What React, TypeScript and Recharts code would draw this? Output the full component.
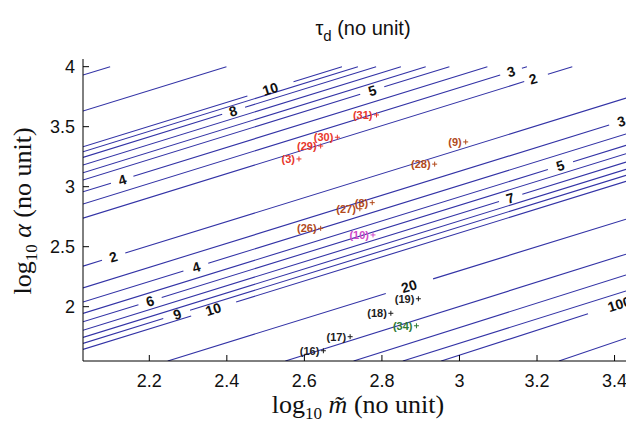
import React from "react"
import { ComposedChart, Line, Scatter, XAxis, YAxis } from "recharts"

// ---------------------------------------------------------------------------
// Data
// ---------------------------------------------------------------------------

const xTicks = [2.2, 2.4, 2.6, 2.8, 3, 3.2, 3.4]
const yTicks = [2, 2.5, 3, 3.5, 4]
const xDomain: [number, number] = [2.029, 3.4295]
const yDomain: [number, number] = [1.5475, 4.064]

// each contour: visible segments [x0, y0, x1, y1]; gaps are where the labels sit
const contourSegments: number[][][] = [
  [[2.029, 3.93, 2.099, 4.0]],
  [[2.029, 3.63, 2.399, 4.0]],
  [[2.029, 3.332, 2.453, 3.756], [2.572, 3.875, 2.697, 4.0]],
  [[2.029, 3.291, 2.738, 4.0]],
  [[2.029, 3.244, 2.388, 3.603], [2.447, 3.662, 2.785, 4.0]],
  [[2.029, 3.18, 2.849, 4.0]],
  [[2.029, 3.116, 2.913, 4.0]],
  [[2.029, 3.055, 2.744, 3.77], [2.806, 3.832, 2.974, 4.0]],
  [[2.029, 2.957, 2.101, 3.029], [2.159, 3.087, 3.072, 4.0]],
  [[2.029, 2.855, 3.105, 3.931], [3.161, 3.987, 3.174, 4.0]],
  [[2.029, 2.738, 3.167, 3.876], [3.228, 3.937, 3.291, 4.0]],
  [[2.029, 2.338, 2.078, 2.387], [2.138, 2.447, 3.4295, 3.7385]],
  [[2.029, 2.157, 3.386, 3.514]],
  [[2.029, 2.039, 2.288, 2.298], [2.352, 2.362, 3.4295, 3.4395]],
  [[2.029, 1.944, 3.228, 3.143], [3.293, 3.208, 3.4295, 3.3445]],
  [[2.029, 1.874, 2.172, 2.017], [2.232, 2.077, 3.4295, 3.2745]],
  [[2.029, 1.804, 3.102, 2.877], [3.162, 2.937, 3.4295, 3.2045]],
  [[2.029, 1.744, 3.4295, 3.1445]],
  [[2.029, 1.694, 2.236, 1.901], [2.305, 1.97, 3.4295, 3.0945]],
  [[2.029, 1.644, 2.308, 1.923], [2.424, 2.039, 3.4295, 3.0445]],
  [[2.2475, 1.5475, 2.81, 2.11], [2.932, 2.232, 3.4295, 2.7295]],
  [[2.551, 1.5475, 3.4295, 2.4375]],
  [[2.727, 1.5475, 3.4295, 2.2645]],
  [[2.854, 1.5475, 3.4295, 2.1315]],
  [[2.953, 1.5475, 3.3315, 1.9405]],
  [[3.2566, 1.5475, 3.4295, 1.7375]],
]

// contour labels
const labelText = ["10", "8", "4", "5", "3", "2", "2", "3", "4", "5", "6", "7", "9", "10", "20", "100"]
const labelX = [2.512, 2.416, 2.13, 2.775, 3.133, 3.19, 2.107, 3.417, 2.321, 3.26, 2.202, 3.131, 2.272, 2.365, 2.87, 3.412]
const labelY = [3.815, 3.631, 3.058, 3.801, 3.959, 3.899, 2.416, 3.545, 2.331, 3.175, 2.047, 2.906, 1.937, 1.98, 2.17, 2.022]

// marked cases
const pointIds = ["(31)", "(30)", "(29)", "(3)", "(9)", "(28)", "(8)", "(27)", "(26)", "(10)", "(19)", "(18)", "(34)", "(17)", "(16)"]
const pointX = [2.786, 2.685, 2.642, 2.586, 3.016, 2.936, 2.775, 2.743, 2.642, 2.777, 2.894, 2.823, 2.889, 2.718, 2.649]
const pointY = [3.598, 3.412, 3.339, 3.231, 3.373, 3.188, 2.867, 2.816, 2.653, 2.598, 2.066, 1.945, 1.841, 1.75, 1.633]
const pointGroup = ["red", "red", "red", "red", "brown", "brown", "brown", "brown", "brown", "magenta", "dark", "dark", "green", "dark", "dark"]

const groupColor: Record<string, string> = {
  red: "#e8372c",
  brown: "#b24a1c",
  magenta: "#d04ac8",
  green: "#2e7a34",
  dark: "#1c1c1c",
}

const LINE_COLOR = "#3333a6"
const SANS = "'Liberation Sans', Arial, Helvetica, sans-serif"
const SERIF = "'Liberation Serif', 'Times New Roman', serif"

// ---------------------------------------------------------------------------
// Helpers
// ---------------------------------------------------------------------------

function segmentsToPoints(segs: number[][]) {
  const pts: { x: number; y: number | null }[] = []
  segs.forEach((s, i) => {
    if (i > 0) pts.push({ x: (segs[i - 1][2] + s[0]) / 2, y: null })
    pts.push({ x: s[0], y: s[1] })
    pts.push({ x: s[2], y: s[3] })
  })
  return pts
}

const contourData = contourSegments.map(segmentsToPoints)
const labelData = labelText.map((t, i) => ({ x: labelX[i], y: labelY[i], text: t }))
const pointData = pointIds.map((id, i) => ({ x: pointX[i], y: pointY[i], id, color: groupColor[pointGroup[i]] }))

// ---------------------------------------------------------------------------
// Shapes / ticks
// ---------------------------------------------------------------------------

function ContourLabel(props: any) {
  const { cx, cy, payload } = props
  if (cx == null || cy == null) return null
  return (
    <text
      x={cx}
      y={cy}
      transform={`rotate(-17 ${cx} ${cy})`}
      textAnchor="middle"
      dominantBaseline="central"
      fontSize={14}
      fontWeight="bold"
      fontFamily={SANS}
      fill="#111"
    >
      {payload.text}
    </text>
  )
}

function CaseMarker(props: any) {
  const { cx, cy, payload } = props
  if (cx == null || cy == null) return null
  const c = payload.color
  return (
    <g>
      <line x1={cx - 2.5} y1={cy} x2={cx + 2.5} y2={cy} stroke={c} strokeWidth={1} />
      <line x1={cx} y1={cy - 2.5} x2={cx} y2={cy + 2.5} stroke={c} strokeWidth={1} />
      <text x={cx - 4} y={cy} dy={4} textAnchor="end" fontSize={11} fontWeight="bold" fontFamily={SANS} fill={c}>
        {payload.id}
      </text>
    </g>
  )
}

function XTick({ x, y, payload }: any) {
  return (
    <g>
      <line x1={x} y1={y} x2={x} y2={y - 6} stroke="#000" />
      <text x={x} y={y + 26} textAnchor="middle" fontSize={18} fontFamily={SANS} fill="#111">
        {String(payload.value)}
      </text>
    </g>
  )
}

function YTick({ x, y, payload }: any) {
  return (
    <g>
      <line x1={x} y1={y} x2={x + 6} y2={y} stroke="#000" />
      <text x={x - 8} y={y + 6.5} textAnchor="end" fontSize={18} fontFamily={SANS} fill="#111">
        {String(payload.value)}
      </text>
    </g>
  )
}

// ---------------------------------------------------------------------------
// Main
// ---------------------------------------------------------------------------

export default function App() {
  return (
    <div style={{ position: "absolute", left: 0, top: 0, width: 626, height: 421, overflow: "hidden", background: "#fff" }}>
      <ComposedChart width={626} height={421} margin={{ top: 59, right: 0, bottom: 0, left: 0 }}>
        <XAxis
          type="number"
          dataKey="x"
          domain={xDomain}
          allowDataOverflow
          ticks={xTicks}
          height={60}
          tickSize={0}
          tickMargin={0}
          tickLine={false}
          axisLine={{ stroke: "#000" }}
          tick={<XTick />}
          interval={0}
        />
        <YAxis
          type="number"
          dataKey="y"
          domain={yDomain}
          allowDataOverflow
          ticks={yTicks}
          width={83}
          tickSize={0}
          tickMargin={0}
          tickLine={false}
          axisLine={{ stroke: "#000" }}
          tick={<YTick />}
          interval={0}
        />
        {contourData.map((d, i) => (
          <Line
            key={i}
            data={d}
            dataKey="y"
            type="linear"
            stroke={LINE_COLOR}
            strokeWidth={1.1}
            dot={false}
            activeDot={false}
            connectNulls={false}
            isAnimationActive={false}
          />
        ))}
        <Scatter data={labelData} dataKey="y" shape={<ContourLabel />} isAnimationActive={false} />
        <Scatter data={pointData} dataKey="y" shape={<CaseMarker />} isAnimationActive={false} />
      </ComposedChart>

      <svg width={626} height={421} style={{ position: "absolute", left: 0, top: 0, pointerEvents: "none" }}>
        <text x={363} y={35} textAnchor="middle" fontFamily={SANS} fontSize={20} fill="#111">
          τ<tspan dy={6} fontSize={15}>d</tspan>
          <tspan dy={-6}> (no unit)</tspan>
        </text>
        <text x={358} y={413} textAnchor="middle" fontFamily={SERIF} fontSize={26} fill="#111">
          log<tspan dy={6} fontSize={17}>10</tspan>
          <tspan dy={-6} fontStyle="italic"> m̃</tspan>
          <tspan> (no unit)</tspan>
        </text>
        <text transform="translate(31,211) rotate(-90)" textAnchor="middle" fontFamily={SERIF} fontSize={26} fill="#111">
          log<tspan dy={6} fontSize={17}>10</tspan>
          <tspan dy={-6} fontStyle="italic"> α</tspan>
          <tspan> (no unit)</tspan>
        </text>
      </svg>
    </div>
  )
}
